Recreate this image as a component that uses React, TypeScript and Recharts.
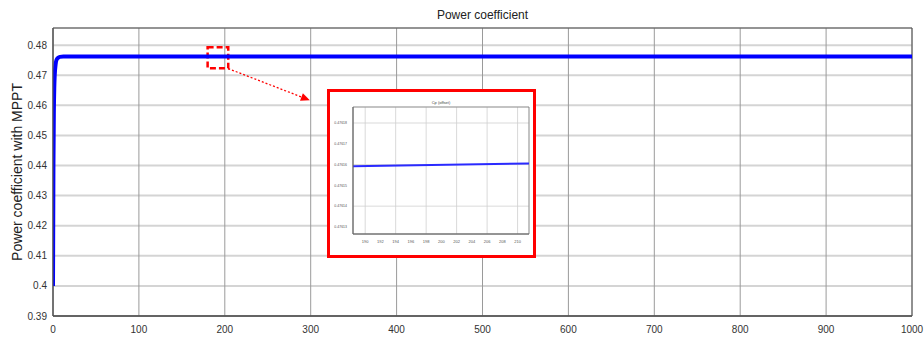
import React from "react";
import { LineChart, Line, XAxis, YAxis, CartesianGrid, ReferenceArea, ReferenceLine } from "recharts";

const timeValues = [0, 0.5, 1, 1.5, 2, 3, 4, 6, 8, 12, 1000];
const cpValues = [0.4, 0.44, 0.458, 0.466, 0.47, 0.4735, 0.475, 0.4758, 0.4761, 0.4762, 0.4762];
const xTicks = [0, 100, 200, 300, 400, 500, 600, 700, 800, 900, 1000];
const yTicks = [0.39, 0.4, 0.41, 0.42, 0.43, 0.44, 0.45, 0.46, 0.47, 0.48];

const insetTime = [188.4, 211.5];
const insetCp = [0.4761592, 0.4761605];
const insetXTicks = [190, 192, 194, 196, 198, 200, 202, 204, 206, 208, 210];
const insetYTicks = [0.47613, 0.47614, 0.47615, 0.47616, 0.47617, 0.47618];

const mainData = timeValues.map((t, i) => ({ t, cp: cpValues[i] }));
const insetData = insetTime.map((t, i) => ({ t, cp: insetCp[i] }));

const FONT = "Liberation Sans, Arial, sans-serif";

const ArrowShape = (p: any) => {
  const { x1, y1, x2, y2 } = p;
  const ang = Math.atan2(y2 - y1, x2 - x1);
  const L = 9, W = 4;
  const bx = x2 - L * Math.cos(ang), by = y2 - L * Math.sin(ang);
  const px = -Math.sin(ang) * W, py = Math.cos(ang) * W;
  return (
    <g>
      <line x1={x1} y1={y1} x2={bx} y2={by} stroke="#ff0000" strokeWidth={1.3} strokeDasharray="2 2" />
      <polygon points={`${x2},${y2} ${bx + px},${by + py} ${bx - px},${by - py}`} fill="#ff0000" />
    </g>
  );
};

export default function App() {
  return (
    <div style={{ position: "absolute", left: 0, top: 0, width: 924, height: 342, background: "#fff", fontFamily: FONT }}>
      <LineChart width={924} height={342} data={mainData} margin={{ top: 28, right: 12, left: 0, bottom: 0 }}>
        <CartesianGrid vertical={false} stroke="#d4d4d4" strokeWidth={2} />
        <CartesianGrid horizontal={false} stroke="#9a9a9a" strokeWidth={1} />
        <XAxis
          type="number"
          dataKey="t"
          domain={[0, 1000]}
          ticks={xTicks}
          tickLine={false}
          axisLine={{ stroke: "#555", strokeWidth: 1.5 }}
          tick={{ fill: "#333", fontSize: 10, fontFamily: FONT }}
          tickMargin={4}
          height={26}
          allowDataOverflow
        />
        <YAxis
          type="number"
          domain={[0.39, 0.4857]}
          ticks={yTicks}
          tickLine={false}
          axisLine={{ stroke: "#555", strokeWidth: 1 }}
          tick={{ fill: "#333", fontSize: 10, fontFamily: FONT }}
          tickMargin={0}
          tickFormatter={(v: number) => String(parseFloat(v.toFixed(2)))}
          width={53}
          allowDataOverflow
          label={{
            content: (props: any) => {
              const vb = props.viewBox || {};
              const cx = 17;
              const cy = (vb.y || 0) + (vb.height || 0) / 2;
              return (
                <text x={cx} y={cy} transform={`rotate(-90 ${cx} ${cy})`} textAnchor="middle" dominantBaseline="central" fontSize={14} fill="#222" fontFamily={FONT}>
                  Power coefficient with MPPT
                </text>
              );
            },
          }}
        />
        <ReferenceArea x1={0} x2={1000} y1={0.39} y2={0.4857} fill="none" stroke="#555" strokeWidth={1} ifOverflow="extendDomain" />
        <Line type="monotone" dataKey="cp" stroke="#0000ff" strokeWidth={4} dot={false} isAnimationActive={false} />
        <ReferenceArea x1={180} x2={204} y1={0.4723} y2={0.4793} fill="none" stroke="#ff0000" strokeWidth={2.5} strokeDasharray="6 3" />
        <ReferenceLine segment={[{ x: 204, y: 0.4722 }, { x: 299, y: 0.4617 }]} shape={ArrowShape} />
      </LineChart>
      <div style={{ position: "absolute", left: 53, top: 8, width: 859, textAlign: "center", fontSize: 12, color: "#222" }}>
        Power coefficient
      </div>
      <div style={{ position: "absolute", left: 327, top: 89, width: 209, height: 169, boxSizing: "border-box", border: "3px solid #ff0000", background: "#fff" }}>
        <div style={{ position: "absolute", left: 23, top: 8, width: 176, textAlign: "center", fontSize: 4, color: "#444" }}>Cp (offset)</div>
        <LineChart width={203} height={163} data={insetData} margin={{ top: 15, right: 4, left: 0, bottom: 0 }}>
          <CartesianGrid stroke="#cfcfcf" strokeWidth={0.8} />
          <XAxis
            type="number"
            dataKey="t"
            domain={[188.4, 211.5]}
            ticks={insetXTicks}
            tickLine={false}
            axisLine={{ stroke: "#666" }}
            tick={{ fill: "#555", fontSize: 4, fontFamily: FONT }}
            tickMargin={0}
            height={21}
            allowDataOverflow
          />
          <YAxis
            type="number"
            domain={[0.4761266, 0.4761877]}
            ticks={insetYTicks}
            tickLine={false}
            axisLine={{ stroke: "#666" }}
            tick={{ fill: "#555", fontSize: 3.5, fontFamily: FONT }}
            tickMargin={0}
            tickFormatter={(v: number) => v.toFixed(5)}
            width={23}
            allowDataOverflow
          />
          <ReferenceArea x1={188.4} x2={211.5} y1={0.4761266} y2={0.4761877} fill="none" stroke="#666" strokeWidth={0.6} />
          <Line type="linear" dataKey="cp" stroke="#2a2aff" strokeWidth={2} dot={false} isAnimationActive={false} />
        </LineChart>
      </div>
    </div>
  );
}
